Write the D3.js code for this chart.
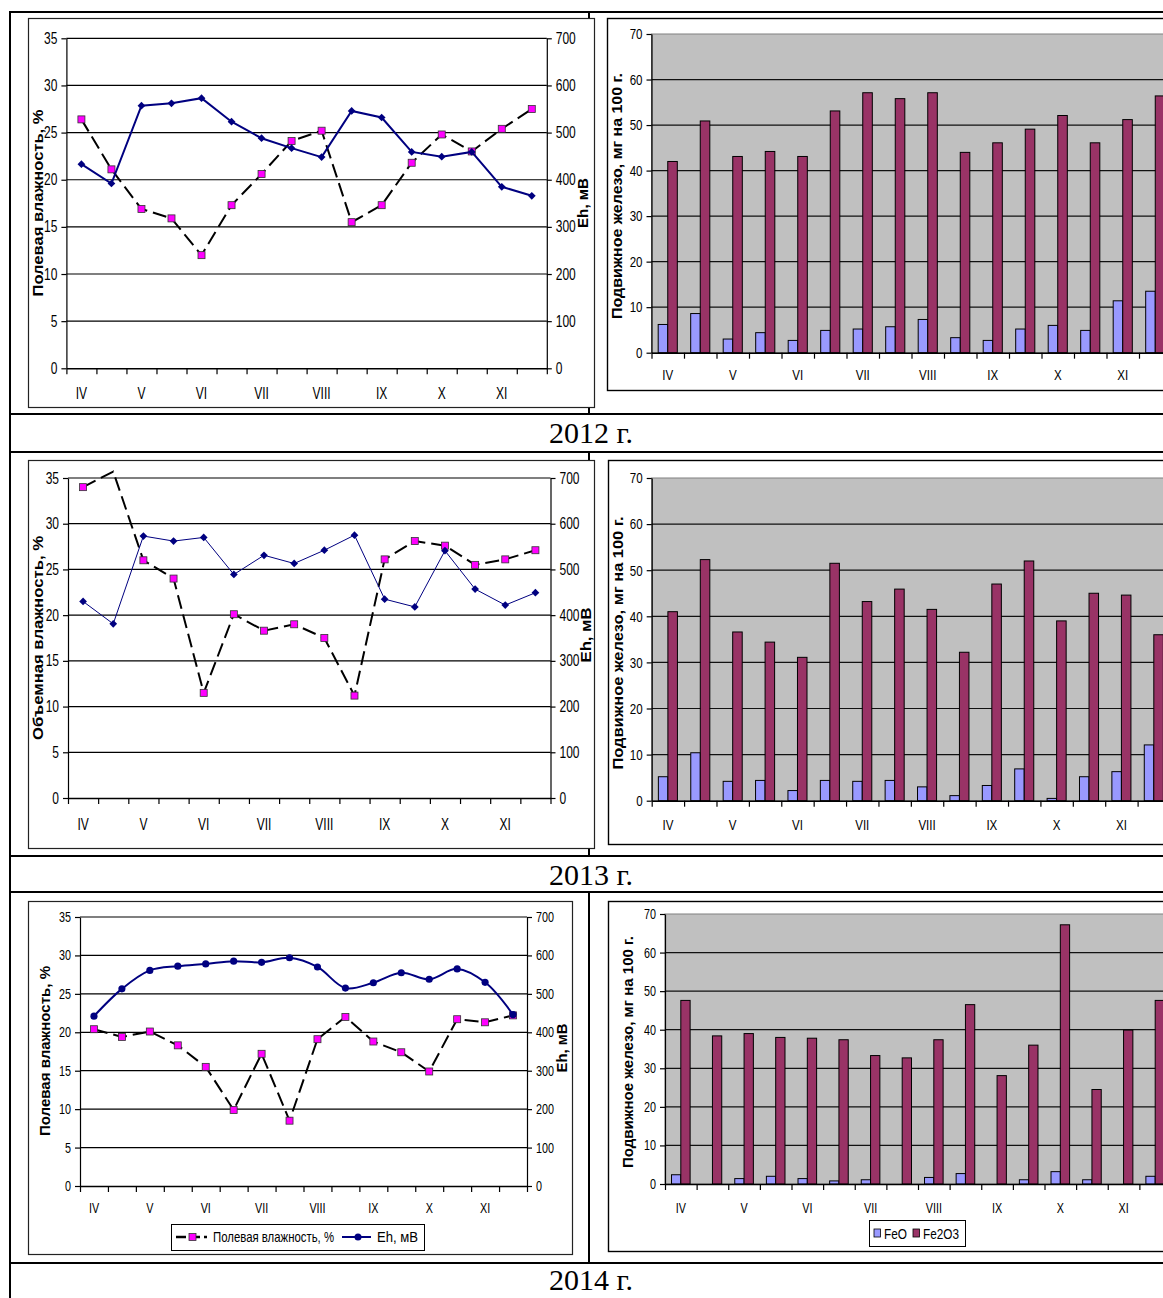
<!DOCTYPE html>
<html>
<head>
<meta charset="utf-8">
<script src="https://cdn.jsdelivr.net/npm/d3@7"></script>
<style>
  html, body { margin: 0; padding: 0; background: #fff; }
  svg { display: block; }
  text { font-family: "Liberation Sans", Arial, sans-serif; fill: #000; }
</style>
</head>
<body>
<svg id="page" width="1163" height="1298"></svg>
<script>
// Sampling dates: two per month, April to November
const samplings = ["IV-1","IV-2","V-1","V-2","VI-1","VI-2","VII-1","VII-2",
                   "VIII-1","VIII-2","IX-1","IX-2","X-1","X-2","XI-1","XI-2"];
const monthLabels = ["IV","V","VI","VII","VIII","IX","X","XI"];
const moistureTicks = [0, 5, 10, 15, 20, 25, 30, 35];
const ehTicks = [0, 100, 200, 300, 400, 500, 600, 700];
const ironTicks = [0, 10, 20, 30, 40, 50, 60, 70];
const yearLabels = ["2012 г.", "2013 г.", "2014 г."];
const ironSeries = ["FeO", "Fe2O3"];

// Soil moisture, % (2013 — volumetric)
const moisture2012 = [26.4, 21.1, 16.9, 15.9, 12.0, 17.3, 20.6, 24.1, 25.2, 15.5, 17.3, 21.8, 24.8, 23.0, 25.4, 27.5];
const moisture2013 = [34.0, 35.7, 26.0, 24.0, 11.5, 20.1, 18.3, 19.0, 17.5, 11.2, 26.1, 28.1, 27.6, 25.5, 26.1, 27.1];
const moisture2014 = [20.4, 19.4, 20.1, 18.3, 15.5, 9.9, 17.2, 8.5, 19.1, 22.0, 18.8, 17.4, 14.9, 21.7, 21.3, 22.2];

// Redox potential Eh, mV
const eh2012 = [433, 392, 557, 562, 573, 523, 488, 467, 448, 546, 532, 459, 449, 459, 385, 366];
const eh2013 = [430, 381, 573, 562, 570, 489, 531, 513, 542, 575, 435, 418, 541, 457, 422, 449];
const eh2014 = [442, 513, 561, 572, 578, 585, 582, 594, 570, 515, 529, 555, 538, 565, 530, 446];

// Mobile iron, mg per 100 g
const feo2012   = [6.2, 8.6, 3.0, 4.4, 2.7, 4.9, 5.2, 5.7, 7.3, 3.3, 2.7, 5.2, 6.0, 4.9, 11.4, 13.5];
const fe2o32012 = [42.0, 50.9, 43.1, 44.2, 43.1, 53.1, 57.1, 55.8, 57.1, 44.0, 46.1, 49.1, 52.1, 46.1, 51.2, 56.4];
const feo2013   = [5.2, 10.4, 4.2, 4.4, 2.2, 4.4, 4.2, 4.4, 3.0, 1.1, 3.3, 6.9, 0.5, 5.2, 6.3, 12.1];
const fe2o32013 = [41.0, 52.3, 36.6, 34.4, 31.1, 51.5, 43.2, 45.9, 41.5, 32.2, 47.0, 52.0, 39.0, 45.0, 44.6, 36.0];
const feo2014   = [2.4, 0, 1.4, 2.0, 1.4, 0.8, 1.1, 0, 1.7, 2.7, 0, 1.1, 3.2, 1.1, 0, 2.0];
const fe2o32014 = [47.6, 38.4, 39.0, 38.0, 37.8, 37.4, 33.3, 32.7, 37.4, 46.5, 28.1, 36.0, 67.2, 24.5, 39.9, 47.6];

const COLORS = { eh: "#000080", moist: "#000", marker: "#FF00FF", feo: "#9999FF", fe2o3: "#993366", plotGrey: "#C0C0C0" };

const svg = d3.select("#page");

// Narrow the glyphs horizontally while keeping the anchor position
function condense(sel, k) {
  sel.each(function () {
    const t = d3.select(this);
    const x = +t.attr("x") || 0;
    t.attr("x", x / k).attr("transform", `scale(${k},1)`);
  });
}

function vTitle(g, str, cx, cy, fs, len) {
  g.append("text")
    .attr("transform", `translate(${cx},${cy}) rotate(-90)`)
    .attr("text-anchor", "middle")
    .attr("dominant-baseline", "central")
    .attr("font-size", fs)
    .attr("font-weight", "bold")
    .attr("textLength", len)
    .attr("lengthAdjust", "spacingAndGlyphs")
    .text(str);
}

function styleAxis(ax, fs, k) {
  ax.attr("font-family", null);
  ax.select(".domain").attr("stroke", "#000").attr("stroke-width", 1.2);
  ax.selectAll(".tick line").attr("stroke", "#000").attr("stroke-width", 1.2);
  ax.selectAll("text").attr("font-size", fs).call(condense, k);
}

function monthAxis(g, x, p) {
  const cap = 0.716 * p.fs;
  const ax = g.append("g")
    .attr("transform", `translate(0,${p.b})`)
    .call(d3.axisBottom(x)
      .tickValues(samplings.filter((d, i) => i % 2 === 0))
      .tickFormat(d => d.split("-")[0])
      .tickSize(0)
      .tickPadding(p.monthCenter - p.b - cap / 2));
  ax.select(".domain").remove();
  ax.attr("font-family", null);
  ax.selectAll("text").attr("font-size", p.fs).call(condense, p.k);
}

function edgeTicks(g, p) {
  const xe = d3.scaleLinear().domain([0, samplings.length]).range([p.l, p.r]);
  const ax = g.append("g")
    .attr("transform", `translate(0,${p.b})`)
    .call(d3.axisBottom(xe).tickValues(d3.range(samplings.length + 1)).tickFormat("").tickSize(6).tickSizeOuter(0));
  ax.select(".domain").attr("stroke", "#000").attr("stroke-width", 1.5);
  ax.selectAll(".tick line").attr("stroke", "#000").attr("stroke-width", 1.2);
}

// ---- moisture / Eh line chart ----
function linePanel(p) {
  const g = svg.append("g");
  g.append("rect")
    .attr("x", p.frame[0] + 0.5).attr("y", p.frame[1] + 0.5)
    .attr("width", p.frame[2] - p.frame[0]).attr("height", p.frame[3] - p.frame[1])
    .attr("fill", "#fff").attr("stroke", "#222").attr("stroke-width", 1.2);

  const x = d3.scaleBand().domain(samplings).range([p.l, p.r]);
  const cx = d => x(d) + x.bandwidth() / 2;
  const yL = d3.scaleLinear().domain([0, 35]).range([p.b, p.t]);
  const yR = d3.scaleLinear().domain([0, 700]).range([p.b, p.t]);

  g.append("g").selectAll("line").data(moistureTicks.slice(1)).join("line")
    .attr("x1", p.l).attr("x2", p.r)
    .attr("y1", d => yL(d)).attr("y2", d => yL(d))
    .attr("stroke", "#000").attr("stroke-width", 1.2);

  const axL = g.append("g").attr("transform", `translate(${p.l},0)`)
    .call(d3.axisLeft(yL).tickValues(moistureTicks).tickSize(5).tickSizeOuter(0).tickPadding(4));
  styleAxis(axL, p.fs, p.k);
  const axR = g.append("g").attr("transform", `translate(${p.r},0)`)
    .call(d3.axisRight(yR).tickValues(ehTicks).tickSize(5).tickSizeOuter(0).tickPadding(4));
  styleAxis(axR, p.fs, p.k);

  edgeTicks(g, p);
  monthAxis(g, x, p);

  // moisture: dashed black line with magenta squares
  const mLine = d3.line().x((d, i) => cx(samplings[i])).y(d => yL(d));
  g.append("path").datum(p.moisture)
    .attr("d", mLine).attr("fill", "none")
    .attr("stroke", COLORS.moist).attr("stroke-width", 2).attr("stroke-dasharray", "14,6");
  g.append("g").selectAll("rect")
    .data(p.moisture.map((v, i) => ({ v, s: samplings[i] })).filter(d => d.v <= 35))
    .join("rect")
    .attr("x", d => cx(d.s) - 3.5).attr("y", d => yL(d.v) - 3.5)
    .attr("width", 7).attr("height", 7)
    .attr("fill", COLORS.marker).attr("stroke", "#333").attr("stroke-width", 0.8);

  // Eh: navy line with markers
  const eLine = d3.line().x((d, i) => cx(samplings[i])).y(d => yR(d)).curve(p.curve);
  g.append("path").datum(p.eh)
    .attr("d", eLine).attr("fill", "none")
    .attr("stroke", COLORS.eh).attr("stroke-width", p.ehWidth);
  const sym = p.ehMarker === "circle"
    ? d3.symbol().type(d3.symbolCircle).size(40)
    : d3.symbol().type(d3.symbolSquare).size(30);
  g.append("g").selectAll("path")
    .data(p.eh.map((v, i) => ({ v, s: samplings[i] })))
    .join("path")
    .attr("d", sym)
    .attr("transform", d => `translate(${cx(d.s)},${yR(d.v)})` + (p.ehMarker === "circle" ? "" : " rotate(45)"))
    .attr("fill", COLORS.eh);

  vTitle(g, p.leftTitle, p.lt[0], p.lt[1], p.tfs, p.lt[2]);
  vTitle(g, "Eh, мВ", p.rt[0], p.rt[1], p.tfs, p.rt[2]);

  if (p.legend) {
    const L = p.legend;
    const lg = g.append("g");
    lg.append("rect").attr("x", L.x + 0.5).attr("y", L.y + 0.5).attr("width", L.w).attr("height", L.h)
      .attr("fill", "#fff").attr("stroke", "#000").attr("stroke-width", 1);
    const my = L.y + L.h / 2;
    lg.append("line").attr("x1", L.x + 5).attr("x2", L.x + 36).attr("y1", my).attr("y2", my)
      .attr("stroke", "#000").attr("stroke-width", 2.5).attr("stroke-dasharray", "10,4");
    lg.append("rect").attr("x", L.x + 18).attr("y", my - 3.5).attr("width", 7).attr("height", 7)
      .attr("fill", COLORS.marker).attr("stroke", "#333").attr("stroke-width", 0.8);
    lg.append("text").attr("x", L.x + 42).attr("y", my + 5).attr("font-size", 14.5)
      .attr("textLength", 121).attr("lengthAdjust", "spacingAndGlyphs").text("Полевая влажность, %");
    lg.append("line").attr("x1", L.x + 171).attr("x2", L.x + 200).attr("y1", my).attr("y2", my)
      .attr("stroke", COLORS.eh).attr("stroke-width", 2);
    lg.append("circle").attr("cx", L.x + 187).attr("cy", my).attr("r", 3.5).attr("fill", COLORS.eh);
    lg.append("text").attr("x", L.x + 206).attr("y", my + 5).attr("font-size", 14.5)
      .attr("textLength", 41).attr("lengthAdjust", "spacingAndGlyphs").text("Eh, мВ");
  }
}

// ---- FeO / Fe2O3 bar chart ----
function barPanel(p) {
  const g = svg.append("g");
  g.append("rect")
    .attr("x", p.frame[0] + 0.5).attr("y", p.frame[1] + 0.5)
    .attr("width", 1200 - p.frame[0]).attr("height", p.frame[3] - p.frame[1])
    .attr("fill", "#fff").attr("stroke", "#000").attr("stroke-width", 1.4);

  const x = d3.scaleBand().domain(samplings).range([p.l, p.r]);
  const xs = d3.scaleBand().domain(ironSeries).range([0, x.bandwidth()]).paddingInner(0).paddingOuter(0.7);
  const y = d3.scaleLinear().domain([0, 70]).range([p.b, p.t]);

  g.append("rect").attr("x", p.l).attr("y", y(70)).attr("width", 1200 - p.l).attr("height", y(0) - y(70))
    .attr("fill", COLORS.plotGrey).attr("stroke", "#808080").attr("stroke-width", 1);
  g.append("g").selectAll("line").data(ironTicks.slice(1, -1)).join("line")
    .attr("x1", p.l).attr("x2", 1200)
    .attr("y1", d => y(d)).attr("y2", d => y(d))
    .attr("stroke", "#111").attr("stroke-width", 1.2);

  const rows = [
    { key: "FeO", vals: p.feo, color: COLORS.feo },
    { key: "Fe2O3", vals: p.fe2o3, color: COLORS.fe2o3 }
  ];
  rows.forEach(r => {
    g.append("g").selectAll("rect")
      .data(r.vals.map((v, i) => ({ v, s: samplings[i] })).filter(d => d.v > 0))
      .join("rect")
      .attr("x", d => x(d.s) + xs(r.key))
      .attr("y", d => y(d.v))
      .attr("width", xs.bandwidth())
      .attr("height", d => y(0) - y(d.v))
      .attr("fill", r.color).attr("stroke", "#000").attr("stroke-width", 1);
  });

  const axL = g.append("g").attr("transform", `translate(${p.l},0)`)
    .call(d3.axisLeft(y).tickValues(ironTicks).tickSize(5).tickSizeOuter(0).tickPadding(4));
  styleAxis(axL, p.fs, p.k);
  edgeTicks(g, p);
  monthAxis(g, x, p);

  vTitle(g, "Подвижное железо, мг на 100 г.", p.tt[0], p.tt[1], p.tfs, p.tt[2]);

  if (p.legend) {
    const L = p.legend;
    const lg = g.append("g");
    lg.append("rect").attr("x", L.x + 0.5).attr("y", L.y + 0.5).attr("width", L.w).attr("height", L.h)
      .attr("fill", "#fff").attr("stroke", "#000").attr("stroke-width", 1);
    const my = L.y + L.h / 2;
    const items = [
      { name: ironSeries[0], color: COLORS.feo, sx: 5, tx: 15, len: 23 },
      { name: ironSeries[1], color: COLORS.fe2o3, sx: 44, tx: 54, len: 36 }
    ];
    items.forEach(it => {
      lg.append("rect").attr("x", L.x + it.sx).attr("y", my - 4).attr("width", 6.5).attr("height", 8)
        .attr("fill", it.color).attr("stroke", "#000").attr("stroke-width", 0.8);
      lg.append("text").attr("x", L.x + it.tx).attr("y", my + 5.5).attr("font-size", 15)
        .attr("textLength", it.len).attr("lengthAdjust", "spacingAndGlyphs").text(it.name);
    });
  }
}

// ---- table grid ----
const grid = svg.append("g").attr("stroke", "#000").attr("stroke-width", 2);
[12, 414, 452, 856, 892, 1263].forEach(yy =>
  grid.append("line").attr("x1", 9).attr("x2", 1163).attr("y1", yy).attr("y2", yy));
grid.append("line").attr("x1", 10).attr("x2", 10).attr("y1", 11).attr("y2", 1298);
[[12, 414], [452, 856], [892, 1263]].forEach(([a, b]) =>
  grid.append("line").attr("x1", 589).attr("x2", 589).attr("y1", a).attr("y2", b));

svg.append("g").selectAll("text").data(yearLabels).join("text")
  .attr("x", 591).attr("y", (d, i) => [443, 885, 1290][i])
  .attr("text-anchor", "middle")
  .style("font-family", "'Liberation Serif', 'Times New Roman', serif")
  .attr("font-size", 30)
  .text(d => d);

// ---- charts ----
linePanel({
  frame: [28, 18, 594, 407], l: 66.4, r: 546.8, t: 38.3, b: 368.3,
  fs: 16, k: 0.75, tfs: 15, monthCenter: 393,
  moisture: moisture2012, eh: eh2012, ehWidth: 2, ehMarker: "diamond", curve: d3.curveLinear,
  leftTitle: "Полевая влажность, %", lt: [37, 203, 187], rt: [582.5, 203, 50]
});
barPanel({
  frame: [607, 18, 0, 390], l: 651.5, r: 1171.5, t: 34, b: 352.7,
  fs: 15, k: 0.77, tfs: 14.5, monthCenter: 375,
  feo: feo2012, fe2o3: fe2o32012, tt: [617, 196, 246]
});
linePanel({
  frame: [28, 460, 594, 848], l: 68, r: 550.5, t: 478, b: 798,
  fs: 16, k: 0.75, tfs: 15, monthCenter: 824,
  moisture: moisture2013, eh: eh2013, ehWidth: 1, ehMarker: "diamond", curve: d3.curveLinear,
  leftTitle: "Объемная влажность, %", lt: [37, 638, 204], rt: [585.5, 635, 55]
});
barPanel({
  frame: [608, 460, 0, 844], l: 651.7, r: 1170, t: 478, b: 800.7,
  fs: 15, k: 0.77, tfs: 14.5, monthCenter: 825,
  feo: feo2013, fe2o3: fe2o32013, tt: [617.5, 643, 253]
});
linePanel({
  frame: [28, 901, 572, 1254], l: 80, r: 527, t: 917, b: 1186,
  fs: 14, k: 0.77, tfs: 14, monthCenter: 1208,
  moisture: moisture2014, eh: eh2014, ehWidth: 2, ehMarker: "circle", curve: d3.curveCatmullRom,
  leftTitle: "Полевая влажность, %", lt: [44.5, 1051, 170], rt: [562, 1048, 49],
  legend: { x: 171, y: 1224, w: 253, h: 26 }
});
barPanel({
  frame: [608, 901, 0, 1251], l: 665, r: 1171, t: 914, b: 1184,
  fs: 14, k: 0.77, tfs: 14, monthCenter: 1208,
  feo: feo2014, fe2o3: fe2o32014, tt: [628, 1052, 232],
  legend: { x: 869, y: 1220, w: 96, h: 26 }
});
</script>
</body>
</html>
